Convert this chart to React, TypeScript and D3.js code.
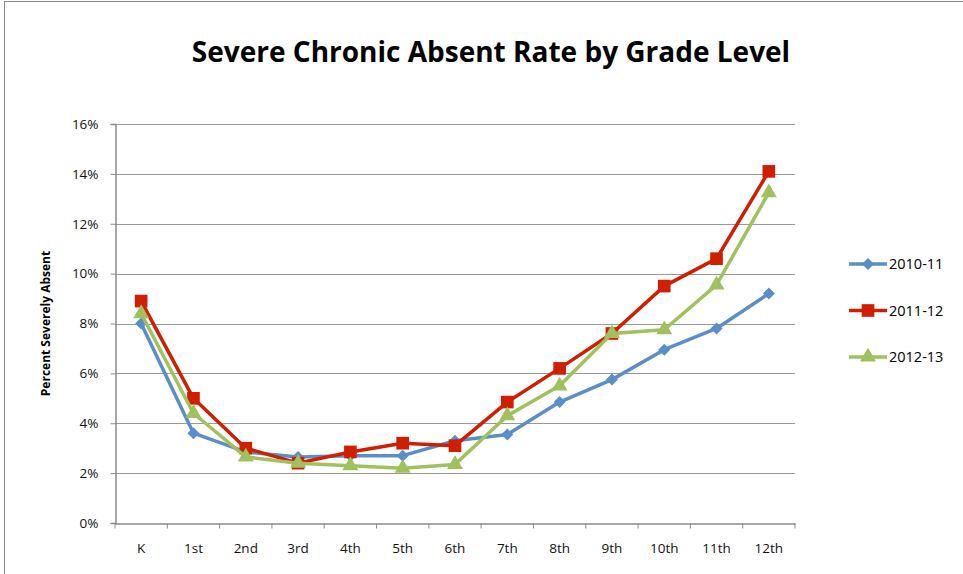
import React, { useEffect, useRef } from 'react';
import * as d3 from 'd3';

const grades = ['K', '1st', '2nd', '3rd', '4th', '5th', '6th', '7th', '8th', '9th', '10th', '11th', '12th'];
const rate2010 = [8.0, 3.6, 2.85, 2.65, 2.7, 2.7, 3.3, 3.55, 4.85, 5.75, 6.95, 7.8, 9.2];
const rate2011 = [8.9, 5.0, 3.0, 2.4, 2.85, 3.2, 3.1, 4.85, 6.2, 7.6, 9.5, 10.6, 14.1];
const rate2012 = [8.4, 4.4, 2.65, 2.4, 2.3, 2.2, 2.35, 4.3, 5.5, 7.6, 7.75, 9.55, 13.25];
const yTicks = [0, 2, 4, 6, 8, 10, 12, 14, 16];

const series = [
  { name: '2010-11', values: rate2010, color: '#5b8ec8', marker: 'diamond' },
  { name: '2011-12', values: rate2011, color: '#d01e00', marker: 'square' },
  { name: '2012-13', values: rate2012, color: '#a1c05e', marker: 'triangle' },
];

const font = 'Open Sans, Noto Sans, sans-serif';

function App() {
  const svgRef = useRef<SVGSVGElement>(null);
  const width = 963;
  const height = 574;

  useEffect(() => {
    const svg = d3.select(svgRef.current);
    svg.selectAll('*').remove();

    const left = 115, right = 795, top = 124, bottom = 523;

    const x = d3.scaleBand().domain(grades).range([left, right]);
    const y = d3.scaleLinear().domain([0, 16]).range([bottom, top]);

    // chart frame
    svg.append('rect')
      .attr('x', 4.5).attr('y', 1.5)
      .attr('width', 1000).attr('height', 1000)
      .attr('fill', 'white').attr('stroke', '#8a8a8a').attr('stroke-width', 1);

    svg.append('text')
      .attr('x', 491).attr('y', 62)
      .attr('text-anchor', 'middle')
      .style('font-family', font).style('font-weight', 'bold').style('font-size', '28px')
      .text('Severe Chronic Absent Rate by Grade Level');

    // gridlines
    svg.append('g').selectAll('line')
      .data(yTicks.filter(d => d > 0))
      .enter().append('line')
      .attr('x1', left).attr('x2', right)
      .attr('y1', d => Math.round(y(d)) + 0.5).attr('y2', d => Math.round(y(d)) + 0.5)
      .attr('stroke', '#999').attr('stroke-width', 1.2);

    const yAxis = svg.append('g')
      .attr('transform', `translate(${left + 0.5},0)`)
      .call(d3.axisLeft(y).tickValues(yTicks).tickFormat(d => `${d}%`).tickSize(5).tickPadding(12));
    yAxis.select('.domain').attr('stroke', '#8a8a8a').attr('stroke-width', 1.5);
    yAxis.selectAll('line').attr('stroke', '#8a8a8a');
    yAxis.selectAll('text').style('font-family', font).style('font-size', '13.5px').attr('fill', '#111');

    const xAxis = svg.append('g')
      .attr('transform', `translate(0,${bottom + 0.5})`)
      .call(d3.axisBottom(x).tickSize(0).tickPadding(20));
    xAxis.select('.domain').attr('stroke', '#8a8a8a').attr('stroke-width', 1.5);
    xAxis.selectAll('text').style('font-family', font).style('font-size', '13.5px').attr('fill', '#111');
    xAxis.selectAll('line.bt')
      .data([...grades.map(g => x(g) as number), right])
      .enter().append('line')
      .attr('x1', d => d).attr('x2', d => d)
      .attr('y1', 0).attr('y2', 5)
      .attr('stroke', '#8a8a8a');

    svg.append('text')
      .attr('transform', `translate(50,${(top + bottom) / 2}) rotate(-90)`)
      .attr('text-anchor', 'middle')
      .style('font-family', font).style('font-weight', 'bold').style('font-size', '12px')
      .text('Percent Severely Absent');

    const cx = (g: string) => (x(g) as number) + x.bandwidth() / 2;
    const line = d3.line<number>()
      .x((_, i) => cx(grades[i]))
      .y(d => y(d));

    const symbolFor = (m: string) =>
      m === 'diamond' ? d3.symbol(d3.symbolSquare, 72)
        : m === 'square' ? d3.symbol(d3.symbolSquare, 160)
          : d3.symbol(d3.symbolTriangle, 110);
    const rot = (m: string) => (m === 'diamond' ? ' rotate(45)' : '');

    series.forEach(s => {
      const g = svg.append('g');
      g.append('path')
        .attr('d', line(s.values))
        .attr('fill', 'none').attr('stroke', s.color).attr('stroke-width', 3.5)
        .attr('stroke-linejoin', 'round');
      g.selectAll('path.m')
        .data(s.values)
        .enter().append('path')
        .attr('transform', (d, i) => `translate(${cx(grades[i])},${y(d)})${rot(s.marker)}`)
        .attr('d', symbolFor(s.marker)())
        .attr('fill', s.color);
    });

    // legend
    const legend = svg.append('g');
    series.forEach((s, i) => {
      const ly = 264 + i * 46.5;
      legend.append('line')
        .attr('x1', 849).attr('x2', 887).attr('y1', ly).attr('y2', ly)
        .attr('stroke', s.color).attr('stroke-width', 3.5);
      legend.append('path')
        .attr('transform', `translate(868,${ly})${rot(s.marker)}`)
        .attr('d', symbolFor(s.marker)())
        .attr('fill', s.color);
      legend.append('text')
        .attr('x', 889).attr('y', ly + 5)
        .style('font-family', font).style('font-size', '14.5px')
        .text(s.name);
    });
  }, []);

  return (
    <svg ref={svgRef} width={width} height={height}
      style={{ position: 'absolute', left: 0, top: 0, background: 'white' }} />
  );
}

export default App;
